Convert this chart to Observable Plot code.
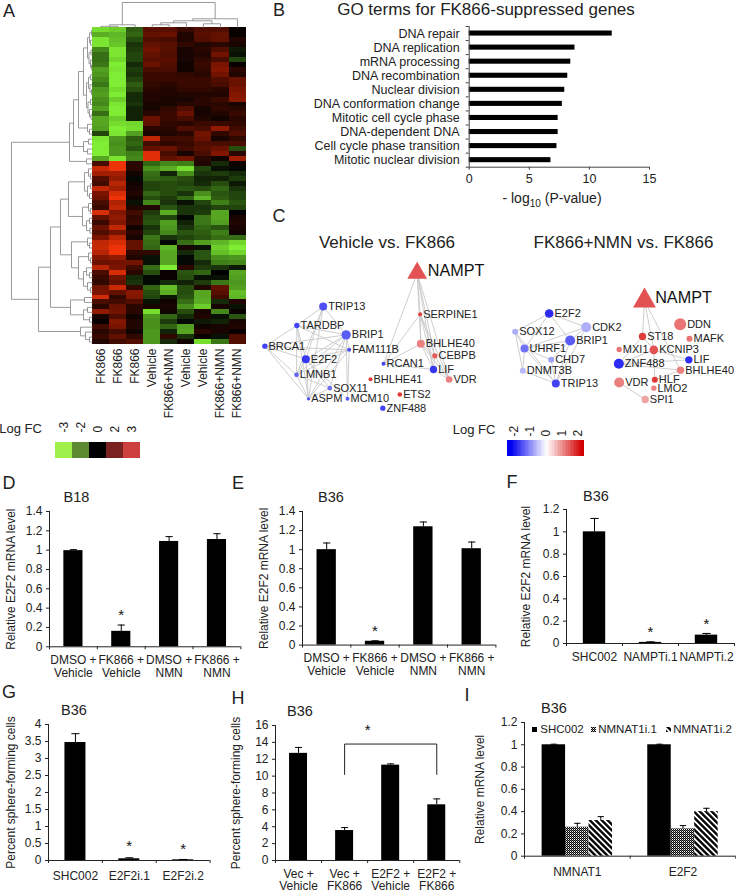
<!DOCTYPE html>
<html><head><meta charset="utf-8">
<script src="https://cdn.jsdelivr.net/npm/d3@7"></script>
<script src="https://cdn.jsdelivr.net/npm/@observablehq/plot@0.6"></script>
<style>
html,body{margin:0;padding:0;background:#fff;color:#222;font-family:"Liberation Sans",Arial,sans-serif}
#page{position:relative;width:736px;height:891px;overflow:hidden;background:#fff}
#page>*{position:absolute}
.lb{white-space:nowrap;transform:translate(-50%,-50%);line-height:1}
sub{font-size:.72em;line-height:0}
</style></head><body><div id="page">
<svg width="0" height="0" style="left:0;top:0"><defs>
<pattern id="dither" width="2" height="2" patternUnits="userSpaceOnUse"><rect width="2" height="2" fill="#fff"/><rect width="1" height="1" fill="#000"/><rect x="1" y="1" width="1" height="1" fill="#000"/><rect x="1" width="1" height="1" fill="#777"/></pattern>
<pattern id="stripes" width="4.2" height="4.2" patternUnits="userSpaceOnUse" patternTransform="rotate(-45)"><rect width="4.2" height="4.2" fill="#fff"/><rect width="2.4" height="4.2" fill="#000"/></pattern>
</defs></svg>
</div>
<script>
// ---------- A: heat map ----------
const heatColumns = ["FK866","FK866","FK866","Vehicle","FK866+NMN","Vehicle","Vehicle","FK866+NMN","FK866+NMN"];
const heat0 = [-2.7,-2.1,-2.8,-2.8,-1.6,-1.3,-1.3,-1.4,-1.9,-1.8,-1.6,-1.4,-1.8,-1.9,-1.7,-1.6,-1.9,-1.3,-2,-2,-1.9,-.8,-2.8,-2.9,-2.9,-2.9,-2,.9,2.5,2,1,.8,2.4, 1.5,1.3,.9,.7,2.7,1.2,.7,1.3,1,1.5,2.4,2.5,2.3,1.6,1.3,2.3,.9,.7,.6,1.4,1.5,2.6,.9,.5,1.8,.3,.1,.8,.5,.7,.4];
const heat1 = [-2.5,-2.2,-2.3,-2.4,-2.8,-2.8,-2.6,-2.9,-2.8,-2.9,-2.9,-2.9,-2.7,-2.9,-2.5,-2.8,-2.9,-2.9,-2.5,-2.7,-2.9,-2.8,-1.8,-1.7,-1.8,-1.8,-2.8,3,3,2,1.8,2.3,2, 2.7,3,2.2,2.4,1.6,1.8,1.6,2.4,1.4,2.3,2.7,3,3,1.8,1.4,1.5,2.7,1.4,1.2,2.5,1.2,.6,.8,1.3,1.4,1,1.6,1.5,.8,1.2,.8];
const heat2 = [-1.1,-1.2,-.9,-.6,-.7,-.8,-.8,-.5,-.7,-.6,-.8,-1.1,-.9,-.5,-.5,-.6,-.4,-.4,-.4,-2.6,-2.7,-1.9,-1.1,-1.2,-1,-1.5,-1.6,.5,.5,.2,-.1,.2,.3, .4,.2,-.2,.4,.8,.6,.7,.2,.5,.3,1.2,1.2,.6,.4,1.4,.8,.5,-.5,-.6,.6,1.7,1.6,1,.5,.5,.2,.4,.4,.2,.6,1];
const heat3 = [1.1,1.2,1,1.2,1.4,1.2,1.1,1.3,.9,.7,.7,.6,.5,.4,.4,.3,.3,.5,1.3,1.2,.5,.3,2.4,.8,1.2,2.8,2.8,-1.2,-1.7,-1.3,-1.2,-.8,-.8, -1.2,-.9,-1.6,.4,-.7,-.9,-1,-.6,-.8,-1.4,-1.3,-1.2,.6,-.2,-.2,-1.3,-.9,-.1,-.1,-1.2,-.9,-.8,-.2,.3,-2.7,-1.8,-1.7,-1.7,-1.8,-1.8,-1.8];
const heat4 = [1.1,1.3,.9,1.1,1.1,1,1.1,1,.9,.7,.7,.5,.4,.4,.3,.3,.6,.7,.7,.6,.5,.4,.8,.6,1.3,.9,1.2,-1.6,-2.1,-.4,-1.1,-.9,-.9, -.9,-.7,-.6,-1,-2.1,-.8,-1.9,-1.8,-1.6,-.6,-.1,-2.2,-2,-2,-2,-2.9,.1,.1,-.5,-2.3,-2.1,-.3,.2,.3,.2,-1.2,-.7,-1.2,-.4,.6,-.5];
const heat5 = [.7,.4,.4,.6,.3,.3,.3,.2,.2,.6,.7,.7,.6,.4,.3,.5,1,1.3,.9,.5,1,.5,.8,.7,.8,.3,1.4,-1.5,-2.7,-1.7,-.9,-.8,-1, -.6,-1.2,-.2,-.6,-.6,-.1,-.4,-.6,-1,-.8,-1.3,.3,-.5,-.1,-.1,.5,-1,-.9,-.4,-.9,-.9,-1,-1.3,-1.7,-.9,-.5,-.1,-1.9,-2,-.6,.2];
const heat6 = [1,1.1,1,.4,.5,.4,.6,.7,.6,.5,.7,.7,.6,.4,.5,.5,.3,.3,.4,.7,.9,1.4,1.3,1,1.1,.9,.5,.4,-.8,-.6,-.4,-.5,-.9, -1.7,-2.2,-.8,-.6,-.7,-1.4,-1.4,-1.2,-1.1,-1,-1.9,-.2,-1,-1,-.5,-.7,-1.2,-.2,-.7,.4,-2,-2,-2.1,-2.5,.3,.4,-.3,.2,.5,.1,-2.7];
const heat7 = [1,1.2,1.2,.5,1,1.4,.9,1.5,1.6,1.4,1,.9,.5,.4,.7,.5,.6,.4,.2,.7,1.8,.6,.3,.9,1.3,1.6,.2,-.5,-.2,-.7,-.4,-.9,-1.2, -1,-1.1,-1.5,-.8,-2,-2,-1.9,-1,-1.5,-1.3,-2.2,-2.5,-2.3,-1.7,-1.5,-.6,0,-.2,-1.4,1.2,1.1,.8,-.5,.3,-1.6,-.2,-.4,.3,.3,-.2,-1.4];
const heat8 = [.1,.1,.4,.3,-.3,-.2,-.8,.1,.5,.4,1.3,1.3,1.5,1.6,1.7,.3,.5,.7,.5,.6,.8,1,.6,.9,-.9,.5,2,.2,-.1,-.5,-.7,-.3,-.6, -.8,-.8,-1,-.8,0,.3,.4,.3,.2,-1.3,-2.6,-2.9,-2.6,-1.8,-1.6,-.3,-2,-1.9,-1.8,-1.9,-2.3,-2.2,.4,-.2,.1,-1,.3,.4,.1,1,1];
const heatCols = [heat0,heat1,heat2,heat3,heat4,heat5,heat6,heat7,heat8];
// row and column cluster trees: [height, child, child]; a bare number is a leaf
const rowTree = [81,
 [23,[19,[14,
   [9,[5,[3,[1,0,1],[2,2,3]],[3.5,[1.5,4,5],[2,6,[1,7,8]]]],[6,[4,[2,9,10],[2.5,11,[1,12,13]]],[4.5,[2,14,15],[3,16,[1.5,17,18]]]]],
   [5,19,[3,20,21]]],[9,[4,22,23],[5,24,25]]],[6,26,27]],
 [54,[42,[32,[24,[8,[4,28,[2,29,30]],[5,[2,31,32],[3,33,34]]],[10,[4,35,[2,36,37]],[6,[3,38,39],[2.5,40,41]]]],
   [21,[5,42,[3,43,44]],[14,[4,45,[2,46,47]],[9,[6,48,[3,49,50]],[5,51,[2,52,53]]]]]],
   [22,[8,54,55],[9,[5,56,57],[3,58,59]]]],
   [12,60,[7,61,[3,62,63]]]]];
const colTree = [25.3,[3,[1.5,0,1],2],[9,[7,[5,[3,3,4],5],[4,6,7]],8]];

// ---------- B: GO terms ----------
const goTerms = ["DNA repair","DNA replication","mRNA processing","DNA recombination","Nuclear division","DNA conformation change","Mitotic cell cycle phase","DNA-dependent DNA","Cell cycle phase transition","Mitotic nuclear division"];
const goValues = [11.9,8.8,8.45,8.2,7.95,7.75,7.4,7.4,7.3,6.8];

// ---------- C: networks (layout coordinates, log fold change, node size) ----------
const net1Names = ["TRIP13","TARDBP","BRIP1","BRCA1","FAM111B","E2F2","LMNB1","SOX11","ASPM","MCM10","ZNF488","SERPINE1","BHLHE40","CEBPB","RCAN1","LIF","VDR","BHLHE41","ETS2"];
const net1X = [218,139,287,43,296,166,138,238,174,291,397,509,511,553,399,549,596,360,448];
const net1Y = [168,225,253,287,298,326,373,413,445,445,473,191,280,316,340,357,387,386,432];
const net1FC = [-1.5,-1.6,-1.4,-1.6,-1.5,-1.7,-1.3,-1.2,-1.5,-1.4,-1.6,1.7,1.1,1.4,-1.6,-1.7,1.1,1.7,1.7];
const net1Size = [12,8,14,8,6,12,7,7,5,6,8,6,12,8,6,11,10,6,7];
const net1Edges = ["TRIP13-TARDBP","TRIP13-BRIP1","TRIP13-E2F2","TRIP13-LMNB1","TRIP13-ASPM","TARDBP-BRIP1","TARDBP-FAM111B","TARDBP-BRCA1","TARDBP-E2F2","TARDBP-LMNB1","TARDBP-ASPM","BRCA1-E2F2","BRCA1-BRIP1","BRCA1-FAM111B","BRCA1-LMNB1","BRCA1-ASPM","BRIP1-E2F2","BRIP1-FAM111B","BRIP1-LMNB1","BRIP1-ASPM","BRIP1-SOX11","BRIP1-MCM10","FAM111B-E2F2","FAM111B-LMNB1","FAM111B-ASPM","FAM111B-MCM10","E2F2-LMNB1","E2F2-ASPM","E2F2-SOX11","E2F2-MCM10","LMNB1-ASPM","LMNB1-SOX11","ASPM-SOX11","NAMPT-SERPINE1","NAMPT-BHLHE40","NAMPT-CEBPB","NAMPT-LIF","NAMPT-VDR","NAMPT-RCAN1","SERPINE1-BHLHE40","SERPINE1-CEBPB","SERPINE1-LIF","SERPINE1-VDR","SERPINE1-RCAN1","BHLHE40-CEBPB","BHLHE40-LIF","BHLHE40-VDR","BHLHE40-RCAN1","CEBPB-LIF","CEBPB-VDR","RCAN1-LIF","LIF-VDR"];
const net2Names = ["E2F2","SOX12","CDK2","BRIP1","UHRF1","CHD7","DNMT3B","TRIP13","DDN","ST18","MAFK","MXI1","KCNIP3","ZNF488","LIF","BHLHE40","VDR","HLF","LMO2","SPI1"];
const net2X = [176,74,287,239,102,182,97,196,569,456,597,386,490,385,595,570,386,493,490,464];
const net2Y = [159,214,200,240,264,298,331,369,191,228,235,267,268,310,298,329,366,358,383,417];
const net2FC = [-1.8,-.7,-.7,-1.4,-1.2,-.8,-.6,-1.6,1.2,1.7,1.2,1.2,1.5,-1.8,-1.8,1.1,1.1,1.7,1.1,.8];
const net2Size = [13,9,15,15,12,9,9,12,18,11,9,8,13,15,11,11,15,9,8,11];
const net2Edges = ["E2F2-SOX12","E2F2-UHRF1","E2F2-BRIP1","E2F2-CDK2","SOX12-UHRF1","SOX12-DNMT3B","SOX12-TRIP13","CDK2-UHRF1","CDK2-BRIP1","CDK2-TRIP13","BRIP1-UHRF1","BRIP1-CHD7","BRIP1-TRIP13","UHRF1-CHD7","UHRF1-TRIP13","CHD7-TRIP13","DNMT3B-TRIP13","UHRF1-DNMT3B","NAMPT-ST18","NAMPT-KCNIP3","NAMPT-BHLHE40","ST18-KCNIP3","KCNIP3-ZNF488","ZNF488-BHLHE40","ZNF488-ST18","KCNIP3-LIF","HLF-KCNIP3","VDR-SPI1","BHLHE40-HLF","LIF-ZNF488"];

// ---------- D–H: bars ----------
const dLabels = ["DMSO +\nVehicle","FK866 +\nVehicle","DMSO +\nNMN","FK866 +\nNMN"];
const dValues = [.995,.16,1.09,1.11], dTops = [1.005,.225,1.14,1.17];
const eValues = [1,.04,1.24,1.01],   eTops = [1.07,.045,1.29,1.08];
const fLabels = ["SHC002","NAMPTi.1","NAMPTi.2"];
const fValues = [1,.01,.075], fTops = [1.12,.015,.09];
const gLabels = ["SHC002","E2F2i.1","E2F2i.2"];
const gValues = [3.47,.05,.02], gTops = [3.73,.08,.03];
const hLabels = ["Vec +\nVehicle","Vec +\nFK866","E2F2 +\nVehicle","E2F2 +\nFK866"];
const hValues = [12.7,3.55,11.3,6.6], hTops = [13.4,3.9,11.45,7.3];
// ---------- I: grouped bars ----------
const iGroups = ["NMNAT1","E2F2"];
const iSeries = ["SHC002","NMNAT1i.1","NMNAT1i.2"];
const iValues = [[1,.26,.32],[1,.245,.4]];
const iTops = [[1.005,.295,.355],[1.005,.275,.43]];

const FONT = '"Liberation Sans",Arial,sans-serif';
const page = document.getElementById("page");
function mount(el,left,top){el.style.left=left+"px";el.style.top=top+"px";page.appendChild(el);return el;}
function label(html,x,y,size,extra){const d=document.createElement("div");d.className="lb";d.innerHTML=html;
  d.style.cssText+=`left:${x}px;top:${y}px;font-size:${size}px;`+(extra||"");page.appendChild(d);return d;}

// ---- heat map
const cells = heatCols.flatMap((col,c)=>col.map((v,r)=>({c,r,v})));
function dendro(tree){const segs=[];(function walk(n){
    if(typeof n==="number")return {p:n+.5,h:0};
    const [h,a,b]=n,A=walk(a),B=walk(b);
    segs.push({h1:h,h2:h,p1:A.p,p2:B.p},{h1:h,h2:A.h,p1:A.p,p2:A.p},{h1:h,h2:B.h,p1:B.p,p2:B.p});
    return {p:(A.p+B.p)/2,h};})(tree);return segs;}
const colW=17.07,rowH=4.95;
const rowSegs=dendro(rowTree), colSegs=dendro(colTree);
mount(Plot.plot({width:246,height:424,marginLeft:0,marginRight:.4,marginTop:0,marginBottom:80,
  style:{fontFamily:FONT,fontSize:"12px",background:"transparent"},
  x:{domain:[-92/colW,9],axis:null},y:{domain:[-27.3/rowH,64],reverse:true,axis:null},
  color:{type:"linear",domain:[-3,-1.5,0,1.5,3],range:["#84f535","#3f7f18","#000000","#7a1400","#ee3308"]},
  marks:[
   Plot.rect(cells,{x1:"c",x2:d=>d.c+1,y1:"r",y2:d=>d.r+1,fill:"v",shapeRendering:"crispEdges"}),
   Plot.link(rowSegs,{x1:d=>-d.h1/colW,x2:d=>-d.h2/colW,y1:"p1",y2:"p2",stroke:"#808080",strokeWidth:.8}),
   Plot.link(colSegs,{x1:"p1",x2:"p2",y1:d=>-d.h1/rowH,y2:d=>-d.h2/rowH,stroke:"#808080",strokeWidth:.8}),
   Plot.axisX({anchor:"bottom",ticks:d3.range(9).map(i=>i+.5),tickSize:0,tickPadding:4,tickRotate:-90,label:null,
     tickFormat:d=>heatColumns[Math.floor(d)],fill:"#222"})
  ]}),0,0);

// ---- heat legend
const heatLegendFC=[-3,-2,0,2,3], heatLegendColors=["#a0f04c","#5c8a30","#000000","#7a2222","#cc4040"];
mount(Plot.plot({width:88,height:38.6,marginLeft:0,marginRight:0,marginTop:22,marginBottom:0,
  style:{fontFamily:FONT,fontSize:"12px",background:"transparent"},
  x:{type:"band",domain:heatLegendFC,padding:0,axis:null},color:{type:"ordinal",domain:heatLegendFC,range:heatLegendColors},
  marks:[Plot.cell(heatLegendFC,{x:d=>d,fill:d=>d}),
   Plot.axisX({anchor:"top",tickSize:0,tickPadding:10,tickRotate:-90,label:null,tickFormat:d=>String(d)})]}),53.3,419.7);
label("Log FC",20.5,428,13);

// ---- B
label("GO terms for FK866-suppressed genes",486,8.5,17);
mount(Plot.plot({width:420,height:195,marginLeft:218.7,marginRight:21,marginTop:6,marginBottom:48.3,
  style:{fontFamily:FONT,fontSize:"12.5px",background:"transparent"},
  x:{domain:[0,15],axis:null},y:{domain:[0,10],reverse:true,axis:null},
  marks:[
   Plot.rect(goValues,{x1:0,x2:d=>d,y1:(d,i)=>i+.32,y2:(d,i)=>i+.68,fill:"#000"}),
   Plot.ruleY([10],{stroke:"#444"}),Plot.ruleX([0],{stroke:"#444"}),
   Plot.axisY({ticks:d3.range(11),tickSize:3,tickFormat:()=>"",label:null,stroke:"#444"}),
   Plot.axisY({ticks:d3.range(10).map(i=>i+.5),tickSize:0,tickPadding:9.5,tickFormat:d=>goTerms[Math.floor(d)],label:null}),
   Plot.axisX({anchor:"bottom",ticks:[0,5,10,15],tickSize:3,tickPadding:4,label:null,tickFormat:d=>String(d),stroke:"#444"})
  ]}),250,20);
label("- log<sub>10</sub> (P-value)",552,198,14);

// ---- C networks
function network(names,X,Y,FC,SIZE,edges,nampt,left,top,title,titleX,titleSize){
  const nodes=names.map((name,i)=>({name,x:X[i],y:Y[i],fc:FC[i],s:SIZE[i]}));
  const all=new Map(nodes.map(n=>[n.name,n]));all.set("NAMPT",nampt);
  const links=edges.map(e=>{const i=e.indexOf("-");return [all.get(e.slice(0,i)),all.get(e.slice(i+1))];});
  mount(Plot.plot({width:246,height:200,margin:0,
    style:{fontFamily:FONT,fontSize:"11px",background:"transparent"},
    x:{domain:[0,738],axis:null},y:{domain:[0,600],reverse:true,axis:null},r:{type:"identity"},
    color:{type:"linear",domain:[-2,0,2],range:["#1414f0","#ffffff","#d81818"]},
    marks:[
     Plot.link(links,{x1:d=>d[0].x,y1:d=>d[0].y,x2:d=>d[1].x,y2:d=>d[1].y,stroke:"#c8c8c8",strokeWidth:.9}),
     Plot.dot(nodes,{x:"x",y:"y",r:d=>d.s/3,fill:"fc"}),
     Plot.dot([nampt],{x:"x",y:"y",r:nampt.s/3,symbol:"triangle",fill:"fc"}),
     Plot.text(nodes,{x:d=>d.x+d.s+3,y:"y",text:"name",textAnchor:"start",fill:"#222"}),
     Plot.text([nampt],{x:d=>d.lx,y:d=>d.ly,text:"name",textAnchor:"start",fontSize:16.2,fill:"#111"})
    ]}),left,top);
  label(title,titleX,241.5,titleSize);
}
network(net1Names,net1X,net1Y,net1FC,net1Size,net1Edges,{name:"NAMPT",x:500,y:68,fc:1.5,s:22,lx:532,ly:61},250,250,"Vehicle vs. FK866",387,17);
network(net2Names,net2X,net2Y,net2FC,net2Size,net2Edges,{name:"NAMPT",x:462,y:121,fc:1.5,s:25.5,lx:494,ly:112},490,260,"FK866+NMN vs. FK866",623.5,17);
label("C",279,216,18);
label("Log FC",474,429,13);
// blue-white-red legend
const fcSteps=d3.range(-2.4,2.4,.1);
mount(Plot.plot({width:77,height:35.7,margin:0,marginTop:20,
  style:{fontFamily:FONT,fontSize:"12px",background:"transparent"},
  x:{domain:[-2.4,2.4],axis:null},
  color:{type:"linear",domain:[-2,0,2],range:["#1414f0","#ffffff","#d81818"]},
  marks:[Plot.rect(fcSteps,{x1:d=>d,x2:d=>d+.1,fill:d=>d,shapeRendering:"crispEdges"}),
   Plot.axisX({anchor:"top",ticks:[-2,-1,0,1,2],tickSize:0,tickPadding:4,tickRotate:-90,label:null,tickFormat:d=>String(d)})]}),507.3,420);

// ---- bar panels
function barPanel(o){
  const n=o.values.length,ml=50,mt=16,mb=50;
  const w=o.right-o.left,h=o.bottom-o.top,half=.075;
  const rows=o.values.map((v,i)=>({i,v,t:o.tops[i]}));
  mount(Plot.plot({width:ml+w+2,height:mt+h+mb,marginLeft:ml,marginRight:2,marginTop:mt,marginBottom:mb,
    style:{fontFamily:FONT,fontSize:"12px",background:"transparent"},
    x:{domain:[0,n],axis:null},y:{domain:[0,o.yMax],axis:null},
    marks:[
     Plot.rect(rows,{x1:d=>d.i+.5-o.bar,x2:d=>d.i+.5+o.bar,y1:0,y2:"v",fill:"#000"}),
     Plot.ruleX(rows,{x:d=>d.i+.5,y1:"v",y2:"t",stroke:"#000"}),
     Plot.link(rows,{x1:d=>d.i+.5-half,x2:d=>d.i+.5+half,y1:"t",y2:"t",stroke:"#000"}),
     Plot.ruleY([0],{stroke:"#222"}),Plot.ruleX([0],{stroke:"#222"}),
     Plot.axisY({ticks:o.ticks,tickSize:3,tickPadding:4,tickFormat:d=>String(d),label:o.ylabel,labelAnchor:"center",labelArrow:"none",labelOffset:o.labelOffset,stroke:"#222"}),
     Plot.axisX({ticks:d3.range(n+1),tickSize:3,tickFormat:()=>"",label:null,stroke:"#222"}),
     Plot.axisX({ticks:d3.range(n).map(i=>i+.5),tickSize:0,tickPadding:o.pad||8,label:null,lineHeight:1.06,tickFormat:d=>o.labels[Math.floor(d)]}),
     Plot.text(o.stars||[],{x:d=>d[0],y:d=>d[1],text:()=>"*",fontSize:15,dy:3,fill:"#111"}),
     ...(o.extra||[])
    ]}),o.left-ml,o.top-mt);
  label(o.title,o.titleX,o.titleY,14.5);
}
const yl1="Relative E2F2 mRNA level", yl2="Percent sphere-forming cells";
barPanel({left:49.3,right:240.7,top:510.7,bottom:646,yMax:1.4,ticks:d3.range(0,1.41,.2).map(d=>+d.toFixed(1)),values:dValues,tops:dTops,labels:dLabels,ylabel:yl1,bar:.2,title:"B18",titleX:76.5,titleY:497,stars:[[1.5,.36]],labelOffset:43});
barPanel({left:302.3,right:495.7,top:510.7,bottom:644.3,yMax:1.4,ticks:d3.range(0,1.41,.2).map(d=>+d.toFixed(1)),values:eValues,tops:eTops,labels:dLabels,ylabel:yl1,bar:.2,title:"B36",titleX:331,titleY:497,stars:[[1.5,.18]],labelOffset:43});
barPanel({left:566,right:734,top:509.3,bottom:643.3,yMax:1.2,ticks:d3.range(0,1.21,.2).map(d=>+d.toFixed(1)),values:fValues,tops:fTops,labels:fLabels,ylabel:yl1,bar:.2,title:"B36",titleX:596,titleY:496,stars:[[1.5,.13],[2.5,.2]],labelOffset:45,pad:8});
barPanel({left:47.7,right:209.3,top:724.3,bottom:860.3,yMax:4,ticks:d3.range(0,4.01,.5),values:gValues,tops:gTops,labels:gLabels,ylabel:yl2,bar:.195,title:"B36",titleX:74,titleY:710,stars:[[1.5,.5],[2.5,.42]],labelOffset:42,pad:10});
const bracket=[[1.5,10.2],[1.5,13.8],[3.5,13.8],[3.5,10.2]];
barPanel({left:275,right:459.3,top:725,bottom:860,yMax:16,ticks:d3.range(0,17,2),values:hValues,tops:hTops,labels:hLabels,ylabel:yl2,bar:.195,title:"B36",titleX:300,titleY:711,stars:[[2,15.8]],labelOffset:44,pad:8,
  extra:[Plot.line(bracket,{x:d=>d[0],y:d=>d[1],stroke:"#222",strokeWidth:1})]});

// ---- I
const iFills=["#000","url(#dither)","url(#stripes)"];
const iBars=iGroups.flatMap((g,gi)=>iSeries.map((s,si)=>({x1:gi+.1667+si*.2222,x2:gi+.1667+(si+1)*.2222,v:iValues[gi][si],t:iTops[gi][si],fill:iFills[si]})));
mount(Plot.plot({width:52+211.3+1,height:6+133.7+30,marginLeft:52,marginRight:1,marginTop:6,marginBottom:30,
  style:{fontFamily:FONT,fontSize:"12px",background:"transparent"},
  x:{domain:[0,2],axis:null},y:{domain:[0,1.2],axis:null},
  marks:[
   Plot.rect(iBars,{x1:"x1",x2:"x2",y1:0,y2:"v",fill:"fill"}),
   Plot.ruleX(iBars,{x:d=>(d.x1+d.x2)/2,y1:"v",y2:"t",stroke:"#000"}),
   Plot.link(iBars,{x1:d=>(d.x1+d.x2)/2-.03,x2:d=>(d.x1+d.x2)/2+.03,y1:"t",y2:"t",stroke:"#000"}),
   Plot.ruleY([0],{stroke:"#222"}),Plot.ruleX([0],{stroke:"#222"}),
   Plot.axisY({ticks:d3.range(0,1.21,.2).map(d=>+d.toFixed(1)),tickSize:3,tickPadding:4,tickFormat:d=>String(d),label:"Relative mRNA level",labelAnchor:"center",labelArrow:"none",labelOffset:49,stroke:"#222"}),
   Plot.axisX({ticks:[0,1,2],tickSize:3,tickFormat:()=>"",label:null,stroke:"#222"}),
   Plot.axisX({ticks:[.5,1.5],tickSize:0,tickPadding:11,label:null,tickFormat:d=>iGroups[Math.floor(d)]})
  ]}),523.7-52,722.3-6);
label("B36",554,708,14.5);
// legend of panel I
const iLegendX=[534,593,668], iLegendT=[562,627.5,702.5];
iSeries.forEach((s,i)=>{
  const sw=document.createElementNS("http://www.w3.org/2000/svg","svg");
  sw.setAttribute("width",5);sw.setAttribute("height",5);
  const r=document.createElementNS("http://www.w3.org/2000/svg","rect");
  r.setAttribute("width",5);r.setAttribute("height",5);r.setAttribute("fill",iFills[i]);
  sw.appendChild(r);mount(sw,iLegendX[i]-2.5,727);
  label(s,iLegendT[i],729.5,11.5);
});

// panel letters
[["A",9,11],["B",279,10],["D",9,483],["E",238,483],["F",512,482],["G",9,692],["H",238,698],["I",467,695]]
  .forEach(([t,x,y])=>label(t,x,y,18));
</script></body></html>
